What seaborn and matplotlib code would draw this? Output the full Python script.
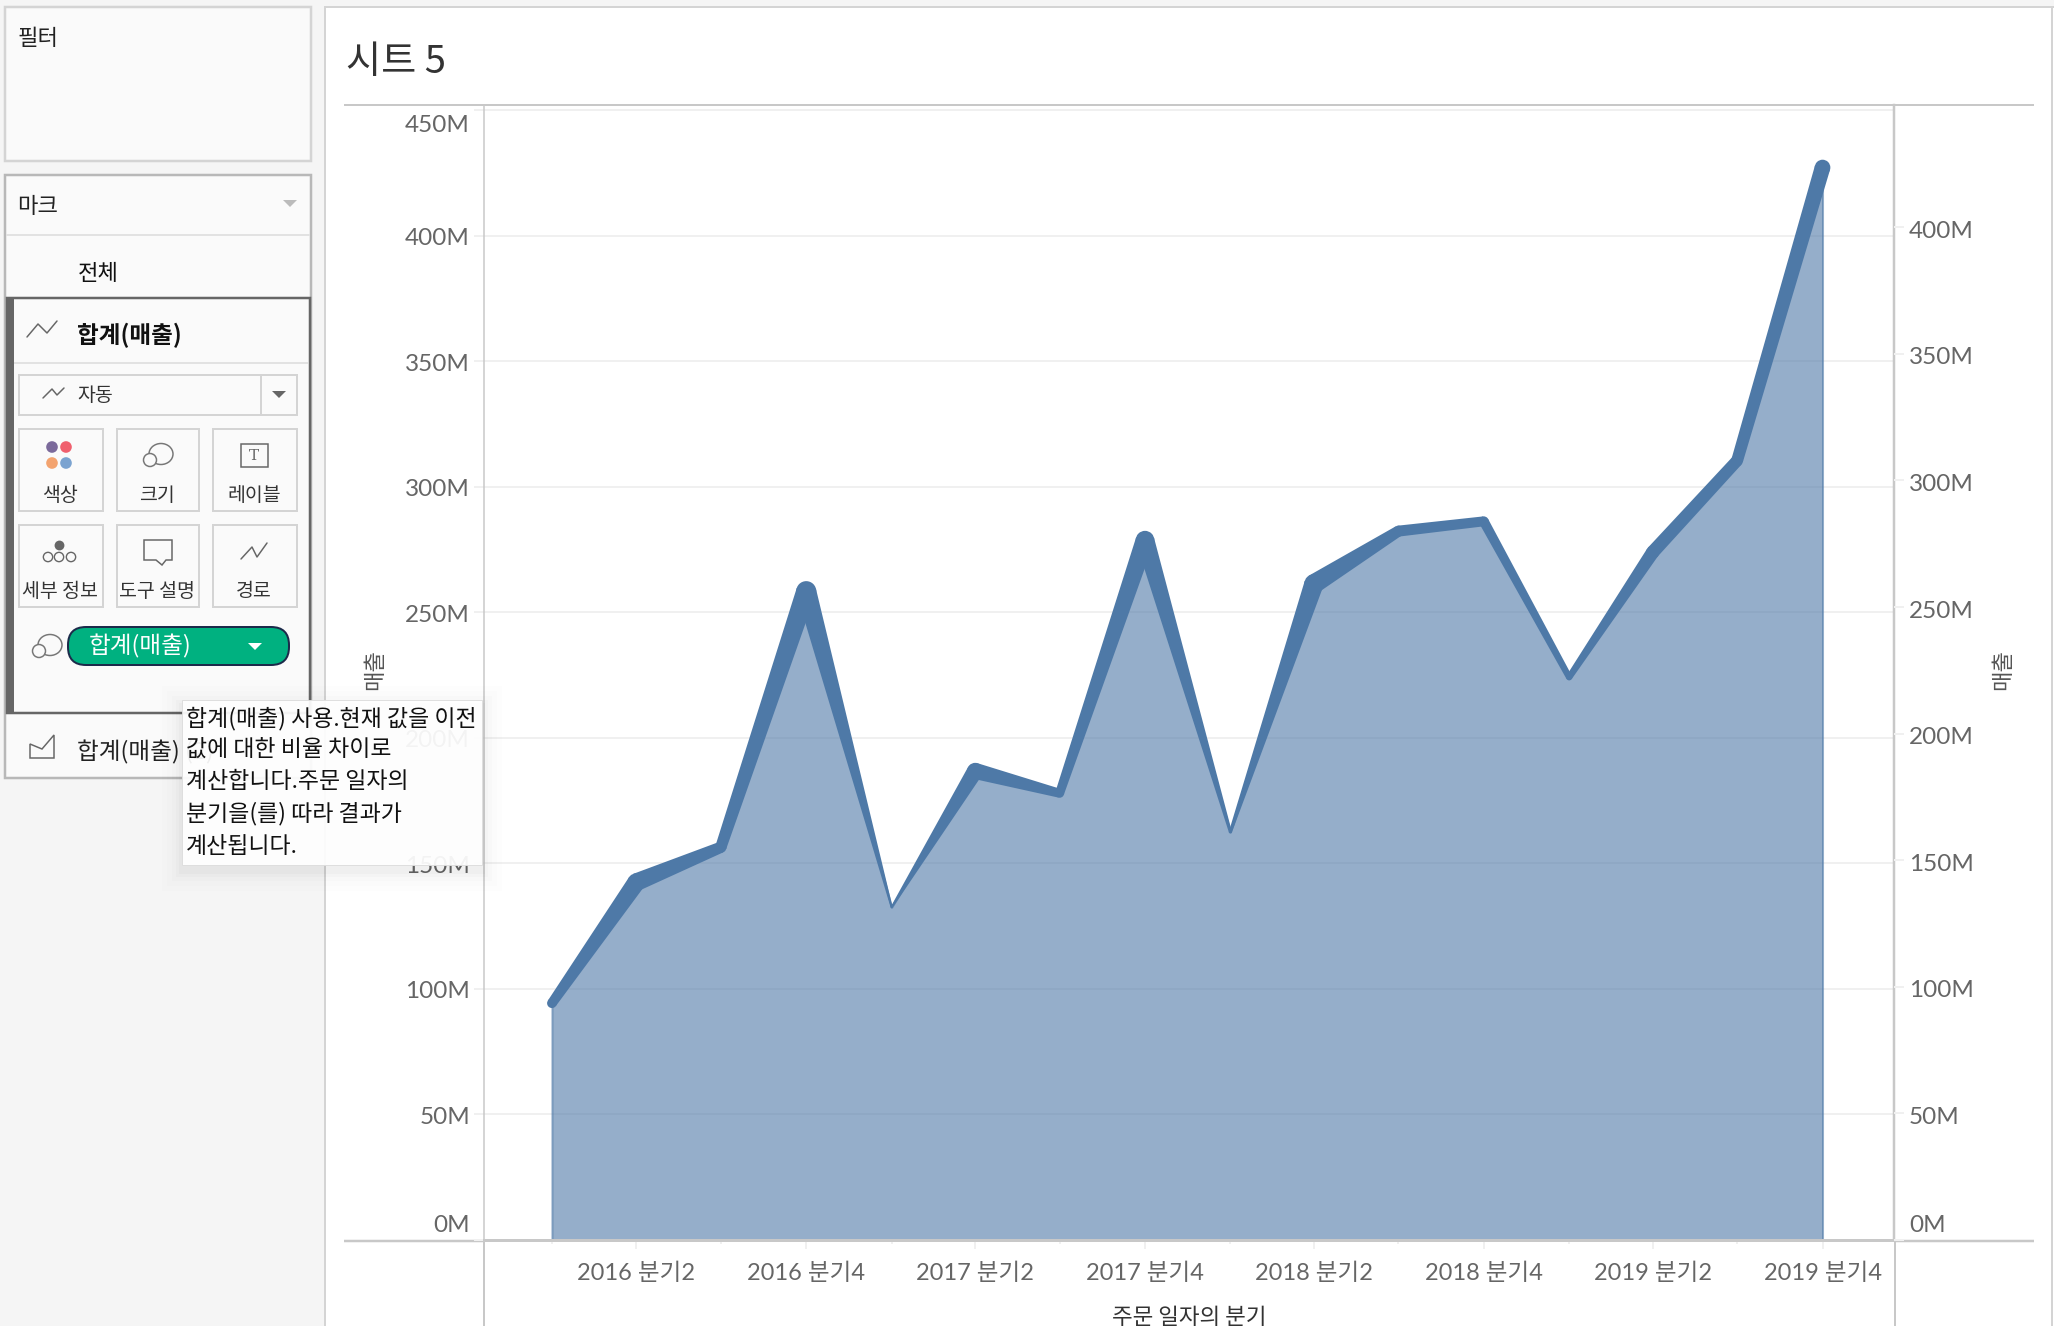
#!/usr/bin/env python3
# -*- coding: utf-8 -*-
import numpy as np
import pandas as pd
import seaborn as sns
import matplotlib.pyplot as plt
from matplotlib.patches import Rectangle, Polygon, Ellipse, FancyBboxPatch
from matplotlib.transforms import IdentityTransform, ScaledTranslation

# =============================================================================
# DATA
quarters = ['2016-01-01', '2016-04-01', '2016-07-01', '2016-10-01',
            '2017-01-01', '2017-04-01', '2017-07-01', '2017-10-01',
            '2018-01-01', '2018-04-01', '2018-07-01', '2018-10-01',
            '2019-01-01', '2019-04-01', '2019-07-01', '2019-10-01']
sales = [94.3, 142.5, 156.4, 258.4, 132.5, 186.8, 177.9, 278.7,
         162.5, 261.3, 282.3, 286.2, 224.1, 273.9, 310.4, 427.1]  # [M]

left_ticks = [0, 50, 100, 150, 200, 250, 300, 350, 400, 450]
right_ticks = [0, 50, 100, 150, 200, 250, 300, 350, 400]
x_tick_dates = ['2016-04-01', '2016-10-01', '2017-04-01', '2017-10-01',
                '2018-04-01', '2018-10-01', '2019-04-01', '2019-10-01']
x_minor_dates = ['2016-01-01', '2016-07-01', '2017-01-01', '2017-07-01',
                 '2018-01-01', '2018-07-01', '2019-01-01', '2019-07-01']
x_tick_labels = ['2016 분기2', '2016 분기4', '2017 분기2', '2017 분기4',
                 '2018 분기2', '2018 분기4', '2019 분기2', '2019 분기4']
tooltip_lines = ['합계(매출) 사용.현재 값을 이전', '값에 대한 비율 차이로',
                 '계산합니다.주문 일자의', '분기을(를) 따라 결과가', '계산됩니다.']

df = pd.DataFrame({'quarter': pd.to_datetime(quarters), 'sales': sales})
df['pct'] = df['sales'].pct_change().fillna(0) * 100
df['width'] = (9.7 + 0.158 * df['pct']).clip(lower=1.5)   # [px] line size follows % diff
df['area'] = (df['width'] * 0.72) ** 2

# =============================================================================
# STYLE
sns.set_theme(style='white')
plt.rcParams['font.family'] = ['Lato', 'Noto Sans CJK KR', 'DejaVu Sans']
KR = ['Noto Sans CJK KR', 'DejaVu Sans']
W, H = 2054, 1326
BLUE = '#4e79a7'
GRID = '#f0f0f0'
LINE = '#c8c8c8'
GREY = '#666666'
px = 0.72    # points per pixel at dpi 100

fig = plt.figure(figsize=(W / 100, H / 100), dpi=100, facecolor='#f5f5f5')


def full_axes(z):
    a = fig.add_axes([0, 0, 1, 1], zorder=z, facecolor='none')
    a.set_xlim(0, W)
    a.set_ylim(H, 0)
    a.axis('off')
    return a


bg = full_axes(0)
top = full_axes(5)


def box(a, x0, y0, x1, y1, fc='none', ec=LINE, lw=2, **kw):
    a.add_patch(Rectangle((x0, y0), x1 - x0, y1 - y0, fc=fc, ec=ec, lw=lw * px, **kw))


def hline(a, x0, x1, y, c=LINE, lw=2):
    a.plot([x0, x1], [y, y], color=c, lw=lw * px, solid_capstyle='butt')


def vline(a, x, y0, y1, c=LINE, lw=2):
    a.plot([x, x], [y0, y1], color=c, lw=lw * px, solid_capstyle='butt')


def label(a, x, y, s, size=14, color='#222222', ha='center', **kw):
    # CJK text sits a little high when centred
    a.text(x, y + 2.5, s, fontsize=size, color=color, ha=ha, va='center', family=KR, **kw)


def poly(a, pts, fc='none', ec=GREY, lw=1.5):
    a.add_patch(Polygon(pts, closed=True, fc=fc, ec=ec, lw=lw * px))


def wiggle(a, xs, ys, c=GREY, lw=1.5):
    a.plot(xs, ys, color=c, lw=lw * px)


def size_icon(a, x, y, s=1.0):
    a.add_patch(Ellipse((x + 3 * s, y - 1 * s), 24 * s, 21 * s, fc='none', ec='#777777', lw=1.5 * px))
    a.add_patch(Ellipse((x - 8 * s, y + 5 * s), 13 * s, 13 * s, fc='#fafafa', ec='#777777', lw=1.5 * px))


# =============================================================================
# Left pane and sheet background
box(bg, 5, 7, 311, 161, fc='#fafafa', ec='#d4d4d4', lw=2.5)
label(bg, 38, 36, '필터', 16)

box(bg, 5, 175, 311, 778, fc='#fafafa', ec='#b8b8b8', lw=2.5)
label(bg, 38, 204, '마크', 16)
poly(bg, [(283, 200), (297, 200), (290, 207)], fc='#bbbbbb', ec='none')
hline(bg, 6, 310, 235, '#e2e2e2')
label(bg, 98, 271, '전체', 16, weight='medium', color='#111111')

box(bg, 7, 298, 310, 713, fc='#fafafa', ec='#666666', lw=2.5)
box(bg, 6, 298, 14, 713, fc='#666666', ec='none', lw=0)
wiggle(bg, [27, 38, 47, 57], [337, 324, 333, 321])
label(bg, 77, 333, '합계(매출)', 17, ha='left', weight='bold', color='#111111')
hline(bg, 14, 308, 363, '#e2e2e2')

box(bg, 19, 375, 297, 415, fc='#fafafa', ec='#d4d4d4', lw=2)
vline(bg, 261, 375, 415, '#d4d4d4')
wiggle(bg, [43, 52, 57, 64], [398, 389, 395, 388])
label(bg, 95, 393, '자동', 14, color='#333333')
poly(bg, [(272, 391), (286, 391), (279, 398)], fc='#666666', ec='none')

tile_x = [(19, 103), (117, 199), (213, 297)]
tile_y = [(429, 511), (525, 607)]
tile_text = [['색상', '크기', '레이블'], ['세부 정보', '도구 설명', '경로']]
for row, (y0, y1) in enumerate(tile_y):
    for col, (x0, x1) in enumerate(tile_x):
        box(bg, x0, y0, x1, y1, fc='#fafafa', ec='#d4d4d4', lw=2)
        label(bg, (x0 + x1) / 2 - 1, y1 - 18, tile_text[row][col], 14, color='#333333')

bg.scatter([52, 66, 52, 66], [447, 447, 463, 463], s=70,
           c=['#7b6a9b', '#f0606e', '#f3a36f', '#7ba3d0'], linewidths=0)
size_icon(bg, 158, 455)
box(bg, 241, 444, 268, 467, ec='#666666', lw=1.5)
bg.text(254, 456, 'T', fontsize=11, family='DejaVu Serif', color='#666666', ha='center', va='center')
bg.scatter([59], [545], s=50, c='#666666', linewidths=0)
bg.scatter([48, 59, 71], [557, 557, 557], s=45, facecolors='none', edgecolors='#666666', linewidths=1)
poly(bg, [(144, 540), (172, 540), (172, 560), (166, 560), (162, 565), (156, 560), (144, 560)])
wiggle(bg, [241, 252, 257, 267], [559, 547, 557, 543])

size_icon(bg, 47, 646)
bg.add_patch(FancyBboxPatch((68, 627), 221, 38, boxstyle='round,pad=0,rounding_size=18',
                            fc='#00b180', ec='#1c2a4a', lw=2 * px))
label(bg, 89, 644, '합계(매출)', 17, ha='left', color='white')
poly(bg, [(248, 643), (262, 643), (255, 650)], fc='white', ec='none')

poly(bg, [(30, 758), (30, 744), (42, 749), (54, 735), (54, 758)])
label(bg, 77, 750, '합계(매출) (2)', 17, ha='left', color='#222222')

# sheet
box(bg, 325, 7, W + 10, H + 10, fc='white', ec='#d4d4d4', lw=2)
vline(bg, W - 2, 7, H, '#d4d4d4')
label(bg, 346, 60, '시트 5', 27.5, ha='left', color='#333333')
hline(bg, 344, 2034, 105)
hline(bg, 344, 484, 1241, lw=2.5)
hline(bg, 1896, 2034, 1241, lw=2.5)
vline(bg, 484, 1240, H)
vline(bg, 1895, 1240, H)

# =============================================================================
# Chart
x0, x1, y0, y1 = 484, 1894, 105, 1240
ax = fig.add_axes([x0 / W, 1 - y1 / H, (x1 - x0) / W, (y1 - y0) / H], zorder=1, facecolor='white')

start = pd.Timestamp('2016-01-01')
ax.set_xlim(start - pd.Timedelta(days=73.2), start + pd.Timedelta(days=1446))
ax.set_ylim(0, 452)

ax.grid(axis='y', color=GRID, lw=2 * px)
ax.set_axisbelow(True)
ax.fill_between(df['quarter'], 0, df['sales'], color=BLUE, alpha=0.6, lw=2 * px)
sns.lineplot(data=df, x='quarter', y='sales', color=BLUE, lw=1.5 * px, errorbar=None, ax=ax)

# line with a size per point: each segment tapers from one point's width to the next
pts = ax.transData.transform(np.column_stack([ax.xaxis.convert_units(df['quarter']), df['sales']]))
for i in range(len(df) - 1):
    d = pts[i + 1] - pts[i]
    n = np.array([-d[1], d[0]]) / np.hypot(*d)
    w0, w1 = df['width'][i] / 2, df['width'][i + 1] / 2
    ax.add_patch(Polygon([pts[i] + n * w0, pts[i + 1] + n * w1, pts[i + 1] - n * w1, pts[i] - n * w0],
                         closed=True, fc=BLUE, ec='none', transform=IdentityTransform(), zorder=3))
sns.scatterplot(data=df, x='quarter', y='sales', size='area',
                sizes=dict(zip(df['area'], df['area'])), color=BLUE,
                linewidth=0, legend=False, zorder=3, ax=ax)

for side in ['top', 'right', 'bottom', 'left']:
    ax.spines[side].set_visible(True)
    ax.spines[side].set_color(LINE)
ax.spines['top'].set_linewidth(2 * px)
ax.spines['right'].set_linewidth(2.5 * px)
ax.spines['bottom'].set_linewidth(3 * px)
ax.spines['left'].set_linewidth(1.5 * px)

ax.set_yticks(left_ticks)
ax.set_yticklabels([f'{v}M' for v in left_ticks])
ax.tick_params(axis='y', left=True, length=10 * px, width=2 * px, color=GRID, pad=4 * px,
               labelsize=17.5, labelcolor=GREY)
ax.set_xticks(pd.to_datetime(x_tick_dates))
ax.set_xticklabels(x_tick_labels)
ax.set_xticks(pd.to_datetime(x_minor_dates), minor=True)
ax.tick_params(axis='x', which='major', bottom=True, length=9 * px, width=2 * px, color=GRID, pad=14 * px,
               labelsize=17, labelcolor=GREY)
ax.tick_params(axis='x', which='minor', bottom=True, length=4 * px, width=2 * px, color=GRID)
ax.set_xlabel('주문 일자의 분기', fontsize=16.2, color='#333333', labelpad=22 * px, family=KR)
ax.set_ylabel('')

ax2 = ax.twinx()
ax2.set_zorder(2)
ax2.set_ylim(0, 448.3)
ax2.set_yticks(right_ticks)
ax2.set_yticklabels([f'{v}M' for v in right_ticks])
ax2.tick_params(axis='y', right=True, length=10 * px, width=2 * px, color=GRID, pad=5 * px,
                labelsize=17.5, labelcolor=GREY)
for side in ax2.spines:
    ax2.spines[side].set_visible(False)
ax2.grid(False)


def shift_label(lab, dy):
    lab.set_transform(lab.get_transform() + ScaledTranslation(0, dy / 100, fig.dpi_scale_trans))


left_labels = ax.get_yticklabels()
right_labels = ax2.get_yticklabels()
for lab in left_labels[1:-1]:
    shift_label(lab, -1)
for lab in right_labels[1:]:
    shift_label(lab, -2)
shift_label(left_labels[0], 17)
shift_label(left_labels[-1], -13)
shift_label(right_labels[0], 17)

label(bg, 375, 667, '매출', 16, color='#555555', rotation=90)
label(bg, 2003, 667, '매출', 16, color='#555555', rotation=90)

# =============================================================================
# Tooltip over everything
for grow, alpha in zip([20, 15, 10, 6, 3], [0.006, 0.008, 0.012, 0.016, 0.02]):
    top.add_patch(Rectangle((182 - grow, 700 - grow + 6), 300 + 2 * grow, 165 + 2 * grow,
                            fc='black', ec='none', alpha=alpha))
box(top, 182, 700, 482, 865, fc='white', ec='#dddddd', lw=1, alpha=0.93)
for y, s in zip([716, 747, 779, 811, 844], tooltip_lines):
    label(top, 186, y, s, 16.5, ha='left', color='#111111')

plt.savefig('out.png', dpi=100, facecolor=fig.get_facecolor())
